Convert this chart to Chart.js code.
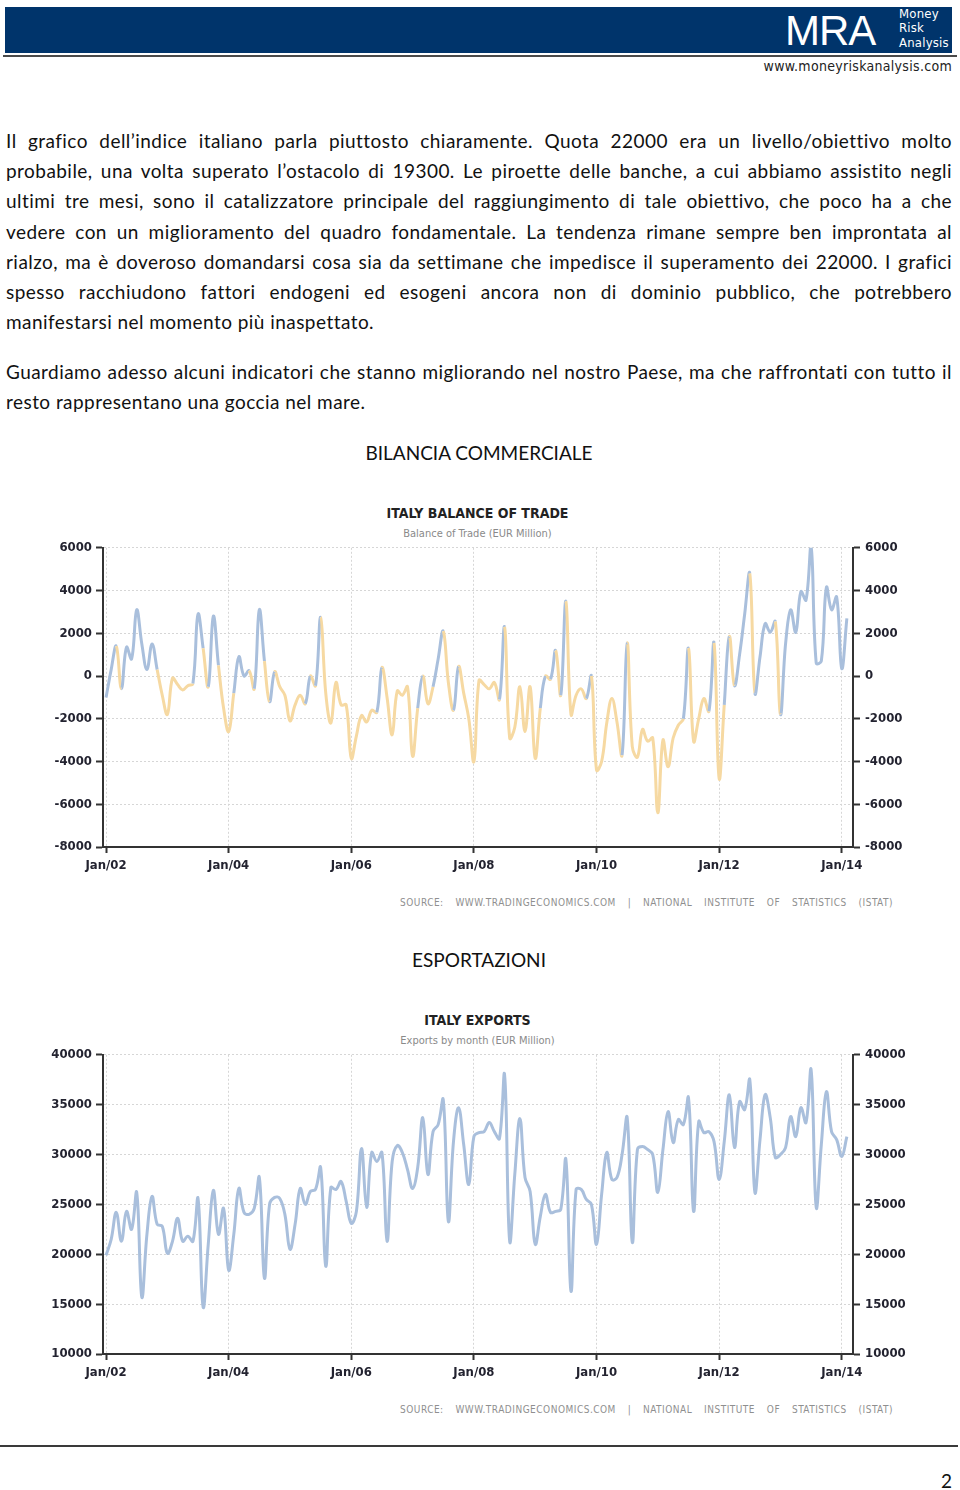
<!DOCTYPE html>
<html>
<head>
<meta charset="utf-8">
<script src="https://cdn.jsdelivr.net/npm/chart.js@4/dist/chart.umd.min.js"></script>
<style>
  html, body { margin: 0; padding: 0; background: #fff; }
  body { width: 960px; height: 1490px; position: relative; overflow: hidden; font-family: Lato, 'Open Sans', sans-serif; color: #111; }
  .abs { position: absolute; }
  .band { left: 5px; top: 7px; width: 947px; height: 46px; background: #00346b; }
  .rule { left: 3px; top: 55px; width: 954px; height: 2px; background: #4a4a4a; }
  .logo { left: 785px; top: 9px; font: 42px 'Liberation Sans', sans-serif; color: #fff; letter-spacing: -1px; line-height: 44px; }
  .logo-s { left: 899px; font: 13px 'DejaVu Sans Condensed', 'DejaVu Sans', sans-serif; color: #fff; line-height: 14px; letter-spacing: 0.2px; }
  .url { right: 8px; top: 58px; font: 14px 'DejaVu Sans Condensed', 'DejaVu Sans', sans-serif; color: #222; letter-spacing: 0.3px; }
  .text { left: 6px; width: 946px; font-size: 19px; line-height: 30.2px; letter-spacing: 0.45px; }
  .j { text-align: justify; text-align-last: justify; white-space: nowrap; }
  .head { left: 0; width: 958px; text-align: center; font-size: 19px; line-height: 30px; }
  .ctitle { left: 0; width: 955px; text-align: center; font: bold 14px 'DejaVu Sans Condensed', 'DejaVu Sans', sans-serif; color: #222; line-height: 18px; }
  .csub { left: 0; width: 955px; text-align: center; font: 11px 'DejaVu Sans Condensed', 'DejaVu Sans', sans-serif; color: #8a8a8a; line-height: 14px; }
  .src { left: 400px; width: 493px; font: 10px 'DejaVu Sans Condensed', 'DejaVu Sans', sans-serif; color: #8f8f8f; letter-spacing: 0.5px; line-height: 12px; text-align: justify; text-align-last: justify; white-space: nowrap; }
  .wrap { left: 0; width: 960px; height: 360px; }
  .foot { left: 0; top: 1445px; width: 958px; height: 2px; background: #3a3a3a; }
  .pnum { right: 8px; top: 1468px; font-size: 19px; line-height: 26px; }
</style>
</head>
<body>
<div class="abs band"></div>
<div class="abs rule"></div>
<div class="abs logo">MRA</div>
<div class="abs logo-s" style="top:7px">Money</div>
<div class="abs logo-s" style="top:21px">Risk</div>
<div class="abs logo-s" style="top:36px">Analysis</div>
<div class="abs url">www.moneyriskanalysis.com</div>

<div class="abs text" style="top:126px">
  <div class="j">Il grafico dell’indice italiano parla piuttosto chiaramente. Quota 22000 era un livello/obiettivo molto</div>
  <div class="j">probabile, una volta superato l’ostacolo di 19300. Le piroette delle banche, a cui abbiamo assistito negli</div>
  <div class="j">ultimi tre mesi, sono il catalizzatore principale del raggiungimento di tale obiettivo, che poco ha a che</div>
  <div class="j">vedere con un miglioramento del quadro fondamentale. La tendenza rimane sempre ben improntata al</div>
  <div class="j">rialzo, ma è doveroso domandarsi cosa sia da settimane che impedisce il superamento dei 22000. I grafici</div>
  <div class="j">spesso racchiudono fattori endogeni ed esogeni ancora non di dominio pubblico, che potrebbero</div>
  <div>manifestarsi nel momento più inaspettato.</div>
</div>
<div class="abs text" style="top:357px">
  <div class="j">Guardiamo adesso alcuni indicatori che stanno migliorando nel nostro Paese, ma che raffrontati con tutto il</div>
  <div>resto rappresentano una goccia nel mare.</div>
</div>

<div class="abs head" style="top:438px">BILANCIA COMMERCIALE</div>
<div class="abs ctitle" style="top:504px">ITALY BALANCE OF TRADE</div>
<div class="abs csub" style="top:527px">Balance of Trade (EUR Million)</div>
<div class="abs wrap" style="top:535px"><canvas id="balanceChart"></canvas></div>
<div class="abs src" style="top:897px">SOURCE: WWW.TRADINGECONOMICS.COM | NATIONAL INSTITUTE OF STATISTICS (ISTAT)</div>

<div class="abs head" style="top:945px">ESPORTAZIONI</div>
<div class="abs ctitle" style="top:1011px">ITALY EXPORTS</div>
<div class="abs csub" style="top:1034px">Exports by month (EUR Million)</div>
<div class="abs wrap" style="top:1042px"><canvas id="exportsChart"></canvas></div>
<div class="abs src" style="top:1404px">SOURCE: WWW.TRADINGECONOMICS.COM | NATIONAL INSTITUTE OF STATISTICS (ISTAT)</div>

<div class="abs foot"></div>
<div class="abs pnum">2</div>

<script>
// --- Dati (mensili, Gen 2002 - Feb 2014, EUR milioni) ---
const yearLabels = ["Jan/02", "Jan/04", "Jan/06", "Jan/08", "Jan/10", "Jan/12", "Jan/14"];

const balance = [
    -1000, 300, 1400, -600, 1350, 800, 3100, 1500, 300, 1500, 300, -900,         // 2002
    -1800, -100, -400, -650, -450, -350, 2900, 1300, -500, 2800, 500, -1500,     // 2003
    -2600, -800, 900, 0, 250, -600, 3100, 700, -1200, 200, -500, -900,           // 2004
    -2100, -1350, -900, -1300, 0, -450, 2750, -800, -2200, -300, -1350, -1350,   // 2005
    -3850, -2800, -1850, -2150, -1600, -1700, 400, -1000, -2750, -700, -900, -500, // 2006
    -3750, -1500, 0, -1300, -500, 800, 2100, -300, -1600, 450, -800, -2000,      // 2007
    -4000, -200, -400, -600, -300, -1100, 2300, -2900, -2400, -500, -2600, -500, // 2008
    -3850, -1500, 0, -150, 1200, -900, 3500, -1800, -900, -600, -1050, 0,        // 2009
    -4400, -4000, -2200, -1050, -2150, -3700, 1550, -3300, -3800, -2500, -3050, -2900, // 2010
    -6400, -3000, -4250, -2900, -2300, -2000, 1300, -3050, -2000, -1050, -1650, 1550,  // 2011
    -4800, -1350, 1850, -450, 1000, 2900, 4800, -800, 900, 2450, 2050, 2550,     // 2012
    -1800, 1500, 3100, 2050, 3950, 3550, 6050, 600, 700, 4150, 3100, 3700,       // 2013
    350, 2700                                                                    // 2014
];

const exportsData = [
    19900, 21500, 24200, 21300, 24300, 22500, 26200, 15700, 22000, 25800, 23000, 22800, // 2002
    20100, 21300, 23600, 21300, 21800, 21300, 25600, 14700, 21000, 26400, 22000, 24600, // 2003
    18400, 22000, 26600, 24200, 24000, 24600, 27700, 17600, 25000, 25700, 25600, 24000, // 2004
    20500, 23000, 26600, 25000, 26300, 26500, 28700, 18800, 26700, 26500, 27300, 25300, // 2005
    23100, 24300, 30600, 24700, 30200, 29300, 30200, 21300, 29300, 30900, 30200, 28500, // 2006
    26600, 28700, 33700, 28000, 32300, 33000, 35500, 23300, 31300, 34700, 31000, 27000, // 2007
    31800, 32200, 32300, 33200, 32300, 31600, 38000, 21300, 28000, 33600, 27700, 26300, // 2008
    21000, 23800, 26000, 24200, 24300, 24500, 29500, 16300, 26500, 26500, 25500, 25000, // 2009
    21000, 26000, 30200, 27500, 27700, 30000, 33700, 21200, 30500, 30800, 30500, 30000, // 2010
    26200, 30500, 34300, 31200, 33500, 33000, 35700, 24300, 33300, 32200, 32300, 31300, // 2011
    27500, 31300, 36000, 30700, 35300, 34500, 37500, 26200, 31500, 36000, 33700, 29700, // 2012
    30000, 30700, 33800, 31800, 34700, 33200, 38500, 24700, 31000, 36300, 32300, 31500, // 2013
    29800, 31800                                                                         // 2014
];

const BLUE = "#a9bfdc";
const YELLOW = "#f6d9a2";
const AXIS = "#333333";
const GRID = "#d6d6d6";
const tickFont = { family: "'DejaVu Sans Condensed', 'DejaVu Sans', sans-serif", size: 13, weight: "bold" };

Chart.defaults.animation = false;

function initChart(id, values, yMin, yMax, yStep, segmentColor) {
    const ctx = document.getElementById(id).getContext("2d");
    const yAxis = (pos) => ({
        position: pos,
        min: yMin,
        max: yMax,
        ticks: {
            stepSize: yStep,
            color: "#232330",
            font: tickFont,
            padding: pos === "left" ? 4 : 5,
            callback: (v) => String(v)
        },
        grid: {
            display: true,
            drawOnChartArea: pos === "left",
            color: GRID,
            tickColor: AXIS,
            tickBorderDash: [],
            tickLength: 7,
            tickWidth: 2
        },
        border: { color: AXIS, width: 2, dash: [2, 2] },
        afterFit: (s) => { s.width = pos === "left" ? 103 : 107; }
    });

    new Chart(ctx, {
        type: "line",
        data: {
            datasets: [{
                data: values.map((v, i) => ({ x: i, y: v })),
                borderColor: BLUE,
                borderWidth: 3,
                pointRadius: 0,
                tension: 0.4,
                fill: false,
                segment: segmentColor ? { borderColor: segmentColor } : {}
            }]
        },
        options: {
            responsive: true,
            maintainAspectRatio: false,
            layout: { padding: { top: 10, left: 0, right: 0, bottom: 0 } },
            plugins: { legend: { display: false }, tooltip: { enabled: false } },
            scales: {
                x: {
                    type: "linear",
                    min: -0.6,
                    max: 146.2,
                    afterBuildTicks: (s) => { s.ticks = yearLabels.map((_, i) => ({ value: i * 24 })); },
                    ticks: {
                        autoSkip: false,
                        maxRotation: 0,
                        padding: 5,
                        color: "#232330",
                        font: tickFont,
                        callback: (v) => yearLabels[v / 24]
                    },
                    grid: {
                        color: GRID,
                        tickColor: AXIS,
                        tickBorderDash: [],
                        tickLength: 6,
                        tickWidth: 2
                    },
                    border: { color: AXIS, width: 2, dash: [2, 2] },
                    afterFit: (s) => { s.height = 48; }
                },
                y: yAxis("left"),
                y2: yAxis("right")
            }
        }
    });
}

initChart("balanceChart", balance, -8000, 6000, 2000, (c) => c.p1.parsed.y < 0 ? YELLOW : BLUE);
initChart("exportsChart", exportsData, 10000, 40000, 5000, null);
</script>
</body>
</html>
